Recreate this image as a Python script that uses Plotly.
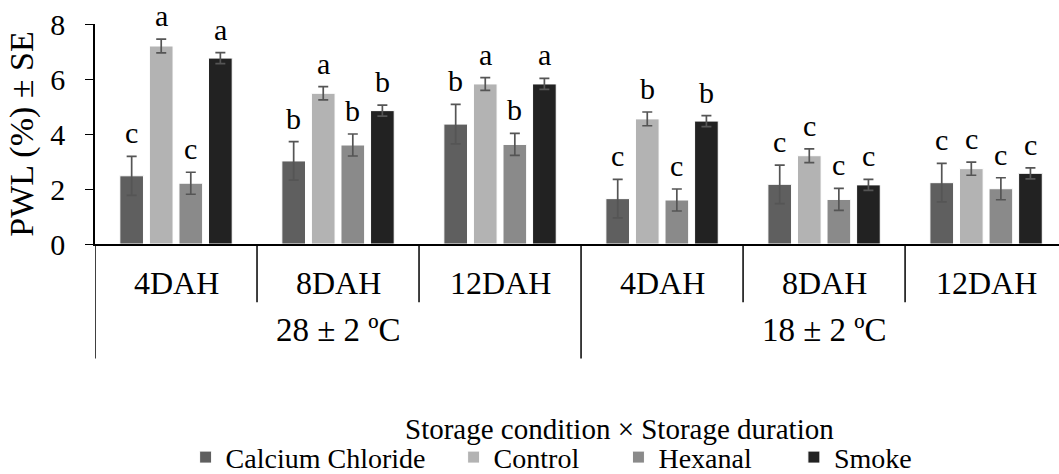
import plotly.graph_objects as go

# Storage condition (outer level) and storage duration (inner level)
conditions = ["28 ± 2 ºC", "18 ± 2 ºC"]
durations = ["4DAH", "8DAH", "12DAH"]

treatments = ["Calcium Chloride", "Control", "Hexanal", "Smoke"]
colors = ["#5f5f5f", "#b3b3b3", "#8a8a8a", "#222222"]

# Physiological weight loss (%) per treatment, 6 condition × duration groups
pwl = {
    "Calcium Chloride": [2.48, 3.02, 4.36, 1.65, 2.17, 2.23],
    "Control":          [7.20, 5.48, 5.82, 4.55, 3.21, 2.74],
    "Hexanal":          [2.21, 3.60, 3.62, 1.60, 1.62, 2.01],
    "Smoke":            [6.76, 4.85, 5.82, 4.47, 2.15, 2.57],
}
se = {
    "Calcium Chloride": [0.71, 0.70, 0.72, 0.70, 0.70, 0.70],
    "Control":          [0.25, 0.24, 0.23, 0.25, 0.25, 0.24],
    "Hexanal":          [0.40, 0.40, 0.40, 0.40, 0.40, 0.40],
    "Smoke":            [0.20, 0.20, 0.20, 0.20, 0.20, 0.20],
}
letters = {
    "Calcium Chloride": ["c", "b", "b", "c", "c", "c"],
    "Control":          ["a", "a", "a", "b", "c", "c"],
    "Hexanal":          ["c", "b", "b", "c", "c", "c"],
    "Smoke":            ["a", "b", "a", "b", "c", "c"],
}

FONT = "Liberation Serif"
n_groups = len(conditions) * len(durations)
group_idx = list(range(n_groups))
BARGAP = 0.27

# each treatment gets its own legend so entries can be spaced freely
legend_x = [0.094, 0.372, 0.543, 0.725]
legend_ids = ["legend", "legend2", "legend3", "legend4"]

fig = go.Figure()
for name, col, lid in zip(treatments, colors, legend_ids):
    fig.add_trace(go.Bar(
        name=name, x=group_idx, y=pwl[name], legend=lid,
        marker=dict(color=col, line=dict(color="white", width=1)),
        error_y=dict(type="data", array=se[name], visible=True,
                     color="#555555", thickness=1.7, width=5),
    ))

legend_style = dict(orientation="h", yanchor="middle", xanchor="left", y=-0.97,
                    font=dict(family=FONT, size=28, color="black"), itemwidth=30,
                    bgcolor="rgba(0,0,0,0)", borderwidth=0)
layout_legends = {lid: dict(x=lx, **legend_style) for lid, lx in zip(legend_ids, legend_x)}

fig.update_layout(
    barmode="group", bargap=BARGAP, bargroupgap=0.2,
    width=1059, height=474,
    margin=dict(l=95, r=0, t=24, b=230, autoexpand=False),
    plot_bgcolor="white", paper_bgcolor="white",
    font=dict(family=FONT, size=30, color="black"),
    showlegend=True,
    **layout_legends,
)

fig.update_xaxes(range=[-0.5, n_groups - 0.55], showticklabels=False, ticks="",
                 showgrid=False, zeroline=False, showline=True,
                 linecolor="black", linewidth=1.5)
fig.update_yaxes(range=[0, 8], tickvals=[0, 2, 4, 6, 8], ticks="outside", ticklen=8,
                 tickcolor="black", showgrid=False, zeroline=False, showline=True,
                 linecolor="black", linewidth=1.5, ticklabelstandoff=14,
                 tickfont=dict(family=FONT, size=30, color="black"),
                 title=dict(text="PWL (%) ± SE", font=dict(family=FONT, size=34, color="black"),
                            standoff=6))

# Significance letters above each error bar
n_tr = len(treatments)
slot = (1 - BARGAP) / n_tr
for t, name in enumerate(treatments):
    offset = -(1 - BARGAP) / 2 + slot * (t + 0.5)
    for g in group_idx:
        fig.add_annotation(x=g + offset, y=pwl[name][g] + se[name][g],
                           text=letters[name][g], showarrow=False,
                           xref="x", yref="y", yanchor="bottom", yshift=5,
                           font=dict(family=FONT, size=30, color="black"))

# Two-level category axis: dividers and labels below the plot
short_bottom, long_bottom = -0.265, -0.52
for b in range(n_groups):
    xb = b - 0.5
    is_outer = (b % len(durations) == 0)
    fig.add_shape(type="line", xref="x", yref="paper", x0=xb, x1=xb, y0=0,
                  y1=long_bottom if is_outer else short_bottom,
                  line=dict(color="black", width=1.5))

for g in group_idx:
    fig.add_annotation(x=g, y=-0.175, xref="x", yref="paper",
                       text=durations[g % len(durations)], showarrow=False,
                       yanchor="middle", font=dict(family=FONT, size=32, color="black"))
for c, cond in enumerate(conditions):
    fig.add_annotation(x=c * len(durations) + (len(durations) - 1) / 2, y=-0.39,
                       xref="x", yref="paper", text=cond, showarrow=False,
                       yanchor="middle", font=dict(family=FONT, size=33, color="black"))

fig.add_annotation(x=0.5446, y=-0.84, xref="paper", yref="paper",
                   text="Storage condition × Storage duration", showarrow=False,
                   yanchor="middle", font=dict(family=FONT, size=29, color="black"))

fig.write_html("out.html")
